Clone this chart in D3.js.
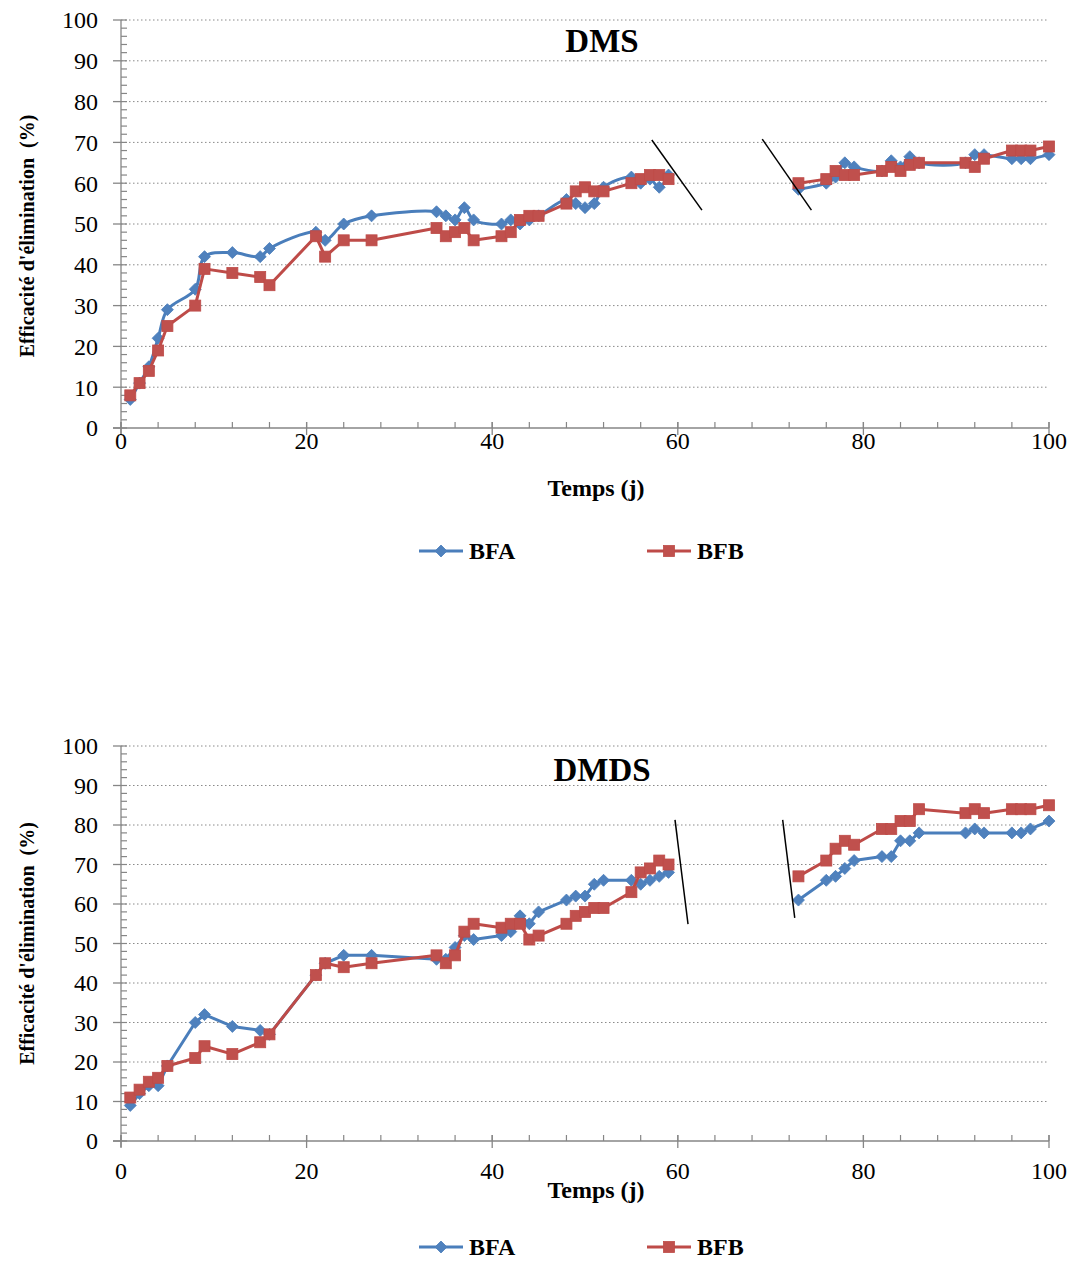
<!DOCTYPE html>
<html><head><meta charset="utf-8">
<script src="https://cdn.jsdelivr.net/npm/d3@7"></script>
<style>body{margin:0;background:#fff}svg{display:block}</style>
</head><body>
<script>
// ---------- DATA ----------
const days = [1,2,3,4,5,8,9,12,15,16,21,22,24,27,34,35,36,37,38,41,42,43,44,45,48,49,50,51,52,55,56,57,58,59,73,76,77,78,79,82,83,84,85,86,91,92,93,96,97,98,100];
const dmsBFA = [7,11,15,22,29,34,42,43,42,44,48,46,50,52,53,52,51,54,51,50,51,50,51,52,56,55,54,55,59,61.5,60,61,59,62,58.5,60,61.5,65,64,63,65.5,64,66.5,65,65,67,67,66,66,66,67];
const dmsBFB = [8,11,14,19,25,30,39,38,37,35,47,42,46,46,49,47,48,49,46,47,48,51,52,52,55,58,59,58,58,60,61,62,62,61,60,61,63,62,62,63,64,63,64.5,65,65,64,66,68,68,68,69];
const dmdsBFA = [9,12,14,14,19,30,32,29,28,27,42,45,47,47,46,46,49,52,51,52,53,57,55,58,61,62,62,65,66,66,65,66,67,68,61,66,67,69,71,72,72,76,76,78,78,79,78,78,78,79,81];
const dmdsBFB = [11,13,15,16,19,21,24,22,25,27,42,45,44,45,47,45,47,53,55,54,55,55,51,52,55,57,58,59,59,63,68,69,71,70,67,71,74,76,75,79,79,81,81,84,83,84,83,84,84,84,85];
const gapAfterDay = 59;           // no measurements between day 59 and day 73
const xTicks = [0,20,40,60,80,100];
const yTicks = [0,10,20,30,40,50,60,70,80,90,100];
const seriesNames = ["BFA","BFB"];
const titles = ["DMS","DMDS"];
const xTitle = "Temps (j)";
const yTitle = "Efficacité d'élimination  (%)";
// axis-break marks [x1,y1,x2,y2] in data units
const dmsBreaks = [[57.2,70.6,62.6,53.4],[69.1,70.8,74.4,53.4]];
const dmdsBreaks = [[59.7,81.3,61.1,54.9],[71.3,81.3,72.6,56.5]];

// ---------- DRAW ----------
const W = 1073, H = 1262;
const svg = d3.select("body").append("svg").attr("width", W).attr("height", H);
const FONT = "Liberation Serif";
const BLUE = "#4A7EBB", BLUE_F = "#4F81BD", RED = "#BE4B48", RED_F = "#C0504D";
const AX = "#868686";

const panels = [
  {title: titles[0], a: dmsBFA, b: dmsBFB, breaks: dmsBreaks, y0: 428, y1: 20, titleY: 52, xLabDy: 21, xTitleY: 496, yTitleShift: 12, legendY: 551, smoothA: true},
  {title: titles[1], a: dmdsBFA, b: dmdsBFB, breaks: dmdsBreaks, y0: 1141, y1: 746, titleY: 781, xLabDy: 38, xTitleY: 1198, yTitleShift: 0, legendY: 1247, smoothA: false}
];

const diamond = "M0,-6L6,0L0,6L-6,0Z";

panels.forEach(p => {
  const g = svg.append("g");
  const x = d3.scaleLinear().domain([0,100]).range([121,1049]);
  const y = d3.scaleLinear().domain([0,100]).range([p.y0, p.y1]);

  g.selectAll(".grid").data(yTicks.filter(t => t > 0)).join("line")
    .attr("x1", x(0)).attr("x2", x(100))
    .attr("y1", d => y(d)).attr("y2", d => y(d))
    .attr("stroke", "#8a8a8a").attr("stroke-width", 1).attr("stroke-dasharray", "1.5,2.5");

  g.append("line").attr("x1", x(0)).attr("x2", x(0)).attr("y1", y(0)+6).attr("y2", y(100))
    .attr("stroke", AX).attr("stroke-width", 1.3);
  g.selectAll(".ymin").data(d3.range(0, 101, 2)).join("line")
    .attr("x1", x(0)).attr("x2", x(0)+6).attr("y1", d => y(d)).attr("y2", d => y(d))
    .attr("stroke", AX).attr("stroke-width", 1.2);
  g.selectAll(".ymaj").data(yTicks).join("line")
    .attr("x1", x(0)-8).attr("x2", x(0)).attr("y1", d => y(d)).attr("y2", d => y(d))
    .attr("stroke", AX).attr("stroke-width", 1.3);
  g.selectAll(".ylab").data(yTicks).join("text")
    .attr("x", 98).attr("y", d => y(d)).attr("dy", "0.35em")
    .attr("text-anchor", "end").attr("font-family", FONT).attr("font-size", 24)
    .text(d => d);

  g.append("line").attr("x1", x(0)-8).attr("x2", x(100)).attr("y1", y(0)).attr("y2", y(0))
    .attr("stroke", AX).attr("stroke-width", 1.3);
  g.selectAll(".xmin").data(d3.range(0, 101, 4)).join("line")
    .attr("x1", d => x(d)).attr("x2", d => x(d)).attr("y1", y(0)-6).attr("y2", y(0))
    .attr("stroke", AX).attr("stroke-width", 1.2);
  g.selectAll(".xmaj").data(xTicks).join("line")
    .attr("x1", d => x(d)).attr("x2", d => x(d)).attr("y1", y(0)-6).attr("y2", y(0)+7)
    .attr("stroke", AX).attr("stroke-width", 1.3);
  g.selectAll(".xlab").data(xTicks).join("text")
    .attr("x", d => x(d)).attr("y", y(0)+p.xLabDy)
    .attr("text-anchor", "middle").attr("font-family", FONT).attr("font-size", 24)
    .text(d => d);

  g.append("text").attr("x", 602).attr("y", p.titleY).attr("text-anchor", "middle")
    .attr("font-family", FONT).attr("font-weight", "bold").attr("font-size", 33).text(p.title);
  g.append("text").attr("x", 596).attr("y", p.xTitleY).attr("text-anchor", "middle")
    .attr("font-family", FONT).attr("font-weight", "bold").attr("font-size", 24).text(xTitle);
  const yc = (y(0) + y(100)) / 2 + p.yTitleShift;
  g.append("text").attr("transform", `translate(34,${yc}) rotate(-90)`)
    .attr("text-anchor", "middle").attr("font-family", FONT).attr("font-weight", "bold")
    .attr("font-size", 20).style("white-space", "pre").text(yTitle);

  const mk = vals => days.map((d, i) => ({d, v: vals[i]}));
  const drawSeries = (vals, color, fill, shape, smooth) => {
    const pts = mk(vals);
    const segs = [pts.filter(q => q.d <= gapAfterDay), pts.filter(q => q.d > gapAfterDay)];
    const line = d3.line().x(q => x(q.d)).y(q => y(q.v))
      .curve(smooth ? d3.curveCatmullRom.alpha(0.5) : d3.curveLinear);
    g.selectAll(null).data(segs).join("path")
      .attr("d", line).attr("fill", "none").attr("stroke", color).attr("stroke-width", 3)
      .attr("stroke-linejoin", "round");
    if (shape === "diamond") {
      g.selectAll(null).data(pts).join("path")
        .attr("d", diamond).attr("transform", q => `translate(${x(q.d)},${y(q.v)})`)
        .attr("fill", fill).attr("stroke", color).attr("stroke-width", 0.8);
    } else {
      g.selectAll(null).data(pts).join("rect")
        .attr("x", q => x(q.d)-5.5).attr("y", q => y(q.v)-5.5).attr("width", 11).attr("height", 11)
        .attr("fill", fill).attr("stroke", color).attr("stroke-width", 0.8);
    }
  };
  drawSeries(p.a, BLUE, BLUE_F, "diamond", p.smoothA);
  drawSeries(p.b, RED, RED_F, "square", false);

  g.selectAll(null).data(p.breaks).join("line")
    .attr("x1", b => x(b[0])).attr("y1", b => y(b[1])).attr("x2", b => x(b[2])).attr("y2", b => y(b[3]))
    .attr("stroke", "#000").attr("stroke-width", 1.5);

  const ly = p.legendY;
  const leg = [{name: seriesNames[0], x0: 419, c: BLUE, f: BLUE_F, s: "diamond"},
               {name: seriesNames[1], x0: 647, c: RED, f: RED_F, s: "square"}];
  leg.forEach(l => {
    g.append("line").attr("x1", l.x0).attr("x2", l.x0+44).attr("y1", ly).attr("y2", ly)
      .attr("stroke", l.c).attr("stroke-width", 3);
    if (l.s === "diamond") {
      g.append("path").attr("d", diamond).attr("transform", `translate(${l.x0+22},${ly})`)
        .attr("fill", l.f).attr("stroke", l.c).attr("stroke-width", 0.8);
    } else {
      g.append("rect").attr("x", l.x0+22-5.5).attr("y", ly-5.5).attr("width", 11).attr("height", 11)
        .attr("fill", l.f).attr("stroke", l.c).attr("stroke-width", 0.8);
    }
    g.append("text").attr("x", l.x0+50).attr("y", ly).attr("dy", "0.35em")
      .attr("font-family", FONT).attr("font-weight", "bold").attr("font-size", 24).text(l.name);
  });
});
</script>
</body></html>
